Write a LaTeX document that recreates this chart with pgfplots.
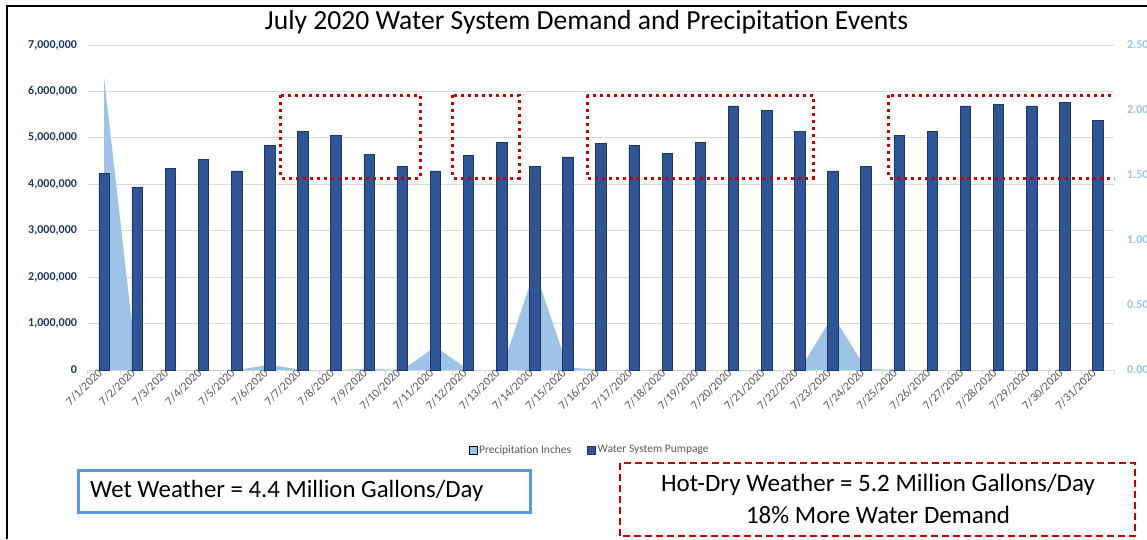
\documentclass[border=0pt]{standalone}
\usepackage{pgfplots}
\pgfplotsset{compat=1.18}
\usepackage{pgfplotstable}
\usepackage{fontspec}
\setmainfont{Carlito}
\definecolor{barfill}{HTML}{2F5597}
\definecolor{bardraw}{HTML}{1F3864}
\definecolor{precip}{HTML}{9DC3E6}
\definecolor{gridc}{HTML}{D9D9D9}
\definecolor{ticknavy}{HTML}{203864}
\definecolor{labgray}{HTML}{595959}
\definecolor{boxblue}{HTML}{5B9BD5}
\definecolor{boxred}{HTML}{C00000}

\pgfplotstableread{
idx pump precip
0 4240000 2.25
1 3930000 0
2 4340000 0
3 4530000 0
4 4290000 0
5 4830000 0.04
6 5140000 0
7 5050000 0
8 4640000 0.01
9 4380000 0
10 4290000 0.18
11 4620000 0
12 4900000 0
13 4380000 0.77
14 4590000 0.02
15 4880000 0
16 4830000 0
17 4670000 0
18 4900000 0
19 5690000 0
20 5590000 0
21 5140000 0
22 4290000 0.42
23 4380000 0.01
24 5050000 0
25 5140000 0
26 5690000 0
27 5720000 0
28 5690000 0
29 5760000 0
30 5380000 0
}\datatable

\begin{document}
\begin{tikzpicture}[x=1pt,y=1pt]
\pgfplotsset{base/.style={at={(87.5pt,169pt)}, anchor=south west, scale only axis,
  width=1027pt, height=325pt, xmin=-0.5, xmax=30.5,
  /pgf/number format/assume math mode=true}}
% Axis A: grid, left ticks, x labels
\begin{axis}[base, ymin=0, ymax=7000000,
  ytick={0,1000000,2000000,3000000,4000000,5000000,6000000,7000000},
  scaled y ticks=false,
  yticklabel style={/pgf/number format/fixed, /pgf/number format/precision=0, /pgf/number format/1000 sep={,},
    font=\bfseries\fontsize{12}{14}\selectfont, text=ticknavy, xshift=-7pt},
  ymajorgrids, grid style={gridc, line width=0.8pt},
  axis x line*=bottom, axis y line*=left,
  y axis line style={draw=none},
  x axis line style={gridc, line width=0.8pt},
  xtick={0,...,30},
  xticklabels={7/1/2020,7/2/2020,7/3/2020,7/4/2020,7/5/2020,7/6/2020,7/7/2020,7/8/2020,7/9/2020,7/10/2020,7/11/2020,7/12/2020,7/13/2020,7/14/2020,7/15/2020,7/16/2020,7/17/2020,7/18/2020,7/19/2020,7/20/2020,7/21/2020,7/22/2020,7/23/2020,7/24/2020,7/25/2020,7/26/2020,7/27/2020,7/28/2020,7/29/2020,7/30/2020,7/31/2020},
  xticklabel style={rotate=45, anchor=east, font=\fontsize{12}{14}\selectfont, text=labgray, yshift=2pt},
  major tick length=0pt,
  minor xtick={-0.5,0.5,...,30.5},
  minor tick length=5pt, tick align=outside,
  minor tick style={gridc, line width=0.8pt},
]
\end{axis}
% Axis B: precipitation area
\begin{axis}[base, ymin=0, ymax=2.5,
  axis x line=none, axis y line*=right,
  y axis line style={draw=none},
  ytick={0,0.5,1,1.5,2,2.5},
  yticklabel style={/pgf/number format/fixed, /pgf/number format/fixed zerofill, /pgf/number format/precision=2,
    font=\bfseries\fontsize{12}{14}\selectfont, text=precip, xshift=9pt},
  major tick length=0pt,
]
\addplot[fill=precip, draw=none] table[x=idx, y=precip] {\datatable} \closedcycle;
\end{axis}
% Axis C: bars
\begin{axis}[base, ymin=0, ymax=7000000, hide axis,
  legend style={at={(0.489,-0.246)}, anchor=center, draw=none, fill=none,
    legend columns=2, font=\fontsize{11.5}{13}\selectfont, text=labgray,
    /tikz/every even column/.append style={column sep=14pt}},
  legend image code/.code={\draw[#1] (0pt,-4pt) rectangle (8pt,4pt);},
]
\addlegendimage{fill=precip, draw=none}
\addlegendentry{Precipitation Inches}
\addlegendimage{fill=barfill, draw=bardraw, line width=0.6pt}
\addlegendentry{Water System Pumpage}
\addplot[ybar, bar width=10.5pt, fill=barfill, draw=bardraw, line width=0.6pt, forget plot]
  table[x=idx, y=pump] {\datatable};
\begin{scope}[boxred, line width=3pt, dash pattern=on 3pt off 4pt]
\draw (axis cs:5.34,5920000) rectangle (axis cs:9.54,4135000);
\draw (axis cs:10.53,5920000) rectangle (axis cs:12.53,4135000);
\draw (axis cs:14.58,5920000) rectangle (axis cs:21.4,4135000);
\draw (axis cs:23.69,5920000) rectangle (axis cs:30.67,4135000);
\end{scope}
\end{axis}
% title
\node[font=\fontsize{27.6}{32}\selectfont, text=black] at (586.5,517) {July 2020 Water System Demand and Precipitation Events};
% frame
\draw[black, line width=2pt] (7,0) -- (7,533) -- (1147,533);
% text boxes
\draw[boxblue, line width=3pt] (78,27) rectangle (530,69);
\node[anchor=west, font=\fontsize{24.8}{28}\selectfont, inner sep=0pt] at (90,48) {Wet Weather = 4.4 Million Gallons/Day};
\draw[boxred, line width=2.5pt, dash pattern=on 7pt off 4pt] (620,3) rectangle (1135,76);
\node[font=\fontsize{25}{28}\selectfont] at (878,54) {Hot-Dry Weather = 5.2 Million Gallons/Day};
\node[font=\fontsize{25}{28}\selectfont] at (878,24) {18\% More Water Demand};
\pgfresetboundingbox
\path[use as bounding box] (0,0) rectangle (1147,539);
\end{tikzpicture}
\end{document}
